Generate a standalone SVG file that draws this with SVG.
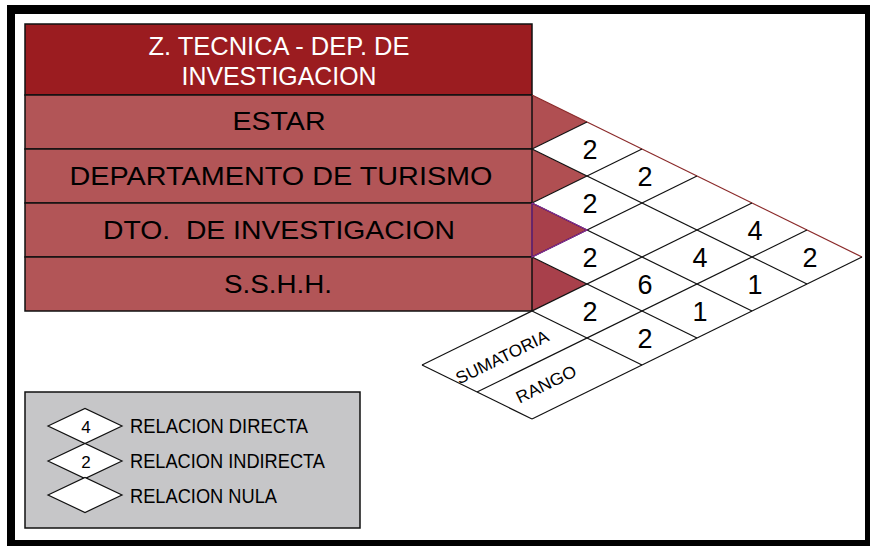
<svg xmlns="http://www.w3.org/2000/svg" width="870" height="546" viewBox="0 0 870 546">
<style>
.t{font-family:"Liberation Sans",Arial,sans-serif;}
.hdr{fill:#ffffff;font-size:25px;text-anchor:middle;}
.row{fill:#000;font-size:26px;text-anchor:middle;}
.num{fill:#000;font-size:27px;text-anchor:middle;}
.lbl{fill:#000;font-size:17px;text-anchor:middle;}
.leg{fill:#000;font-size:20px;}
.legn{fill:#000;font-size:17px;text-anchor:middle;}
.rect{fill:#b25557;stroke:#111;stroke-width:1.5;}
.ln{stroke:#111;stroke-width:1.2;fill:none;}
.dia{fill:#fff;stroke:#111;stroke-width:1.2;}
</style>
<rect x="0" y="0" width="870" height="546" fill="#fff"/>
<!-- frame -->
<g id="frame">
<rect x="7" y="5" width="863" height="9" fill="#000"/>
<rect x="7" y="5" width="8" height="541" fill="#000"/>
<rect x="7" y="540" width="863" height="6" fill="#000"/>
<rect x="865" y="5" width="5" height="541" fill="#000"/>
</g>
<!-- header -->
<g id="header">
<rect x="25" y="24" width="507" height="71" fill="#9b1c20" stroke="#111" stroke-width="1.5"/>
<text class="t hdr" x="279" y="55" textLength="261" lengthAdjust="spacingAndGlyphs">Z. TECNICA - DEP. DE</text>
<text class="t hdr" x="279" y="85" textLength="195" lengthAdjust="spacingAndGlyphs">INVESTIGACION</text>
</g>
<!-- triangles (diagonal cells) -->
<g id="triangles">
<polygon points="532,95 587,122 532,149" fill="#b04f52"/>
<polygon points="532,149 587,176 532,203" fill="#b04f52"/>
<polygon points="532,203 587,230 532,257" fill="#a8404b"/>
<polygon points="532,257 587,284 532,311" fill="#a8404b"/>
</g>
<!-- rows -->
<g id="row-estar">
<rect class="rect" x="25" y="95" width="507" height="54"/>
<text class="t row" x="279" y="130" textLength="93" lengthAdjust="spacingAndGlyphs">ESTAR</text>
</g>
<g id="row-turismo">
<rect class="rect" x="25" y="149" width="507" height="54"/>
<text class="t row" x="281" y="184.5" textLength="423" lengthAdjust="spacingAndGlyphs">DEPARTAMENTO DE TURISMO</text>
</g>
<g id="row-investigacion">
<rect class="rect" x="25" y="203" width="507" height="54"/>
<text class="t row" x="279" y="238.5" textLength="352" lengthAdjust="spacingAndGlyphs" xml:space="preserve">DTO.  DE INVESTIGACION</text>
</g>
<g id="row-sshh">
<rect class="rect" x="25" y="257" width="507" height="54"/>
<text class="t row" x="278" y="293" textLength="108" lengthAdjust="spacingAndGlyphs">S.S.H.H.</text>
</g>
<!-- matrix cells background -->
<g id="matrix-bg">
<polygon points="587,122 862,257 532,419 422,365 532,311 587,284 532,257 587,230 532,203 587,176 532,149" fill="#fff"/>
</g>
<!-- connectors / grid lines -->
<g id="connectors">
<line x1="532" y1="95" x2="862" y2="257" stroke="#8b2a2a" stroke-width="1.2"/>
<line class="ln" x1="532" y1="149" x2="807" y2="284"/>
<line class="ln" x1="532" y1="203" x2="752" y2="311"/>
<line class="ln" x1="532" y1="257" x2="697" y2="338"/>
<line class="ln" x1="532" y1="311" x2="642" y2="365"/>
<line class="ln" x1="422" y1="365" x2="532" y2="419"/>
<line class="ln" x1="532" y1="149" x2="587" y2="122"/>
<line class="ln" x1="532" y1="203" x2="642" y2="149"/>
<line class="ln" x1="532" y1="257" x2="697" y2="176"/>
<line class="ln" x1="422" y1="365" x2="752" y2="203"/>
<line class="ln" x1="477" y1="392" x2="807" y2="230"/>
<line class="ln" x1="532" y1="419" x2="862" y2="257"/>
<polyline points="532,203 587,230 532,257 532,203" fill="none" stroke="#8a2a9a" stroke-width="1.2"/>
</g>
<!-- cell values -->
<g id="values">
<text class="t num" x="590" y="158.5">2</text>
<text class="t num" x="645" y="185.5">2</text>
<text class="t num" x="590" y="212.5">2</text>
<text class="t num" x="755" y="239.5">4</text>
<text class="t num" x="590" y="266.5">2</text>
<text class="t num" x="700" y="266.5">4</text>
<text class="t num" x="810" y="266.5">2</text>
<text class="t num" x="645" y="293.5">6</text>
<text class="t num" x="755" y="293.5">1</text>
<text class="t num" x="590" y="320.5">2</text>
<text class="t num" x="700" y="320.5">1</text>
<text class="t num" x="645" y="347.5">2</text>
</g>
<g id="sumatoria">
<text class="t lbl" transform="translate(502,357) rotate(-26.1)" x="0" y="6" textLength="101" lengthAdjust="spacingAndGlyphs">SUMATORIA</text>
</g>
<g id="rango">
<text class="t lbl" transform="translate(546,384) rotate(-26.1)" x="0" y="6" textLength="65" lengthAdjust="spacingAndGlyphs">RANGO</text>
</g>
<!-- legend -->
<g id="legend">
<rect x="25" y="392" width="335" height="136" fill="#c6c6c8" stroke="#111" stroke-width="1.5"/>
<polygon class="dia" points="48,426 85,408.5 122,426 85,443.5"/>
<text class="t legn" x="86" y="432.5">4</text>
<polygon class="dia" points="48,461 85,443.5 122,461 85,478.5"/>
<text class="t legn" x="86" y="467.5">2</text>
<polygon class="dia" points="48,495 85,477.5 122,495 85,512.5"/>
<text class="t leg" x="130" y="433" textLength="178" lengthAdjust="spacingAndGlyphs">RELACION DIRECTA</text>
<text class="t leg" x="130" y="468" textLength="195" lengthAdjust="spacingAndGlyphs">RELACION INDIRECTA</text>
<text class="t leg" x="130" y="503" textLength="147" lengthAdjust="spacingAndGlyphs">RELACION NULA</text>
</g>
</svg>
